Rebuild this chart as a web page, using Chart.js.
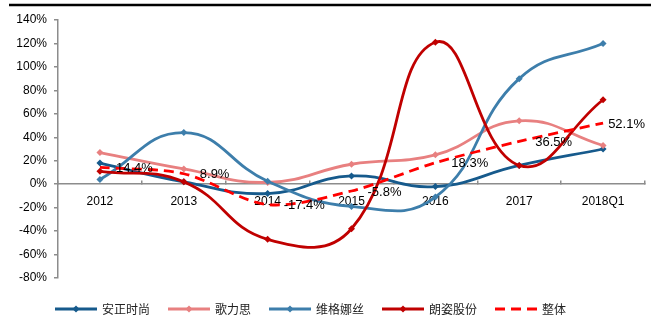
<!DOCTYPE html>
<html>
<head>
<meta charset="utf-8">
<script src="https://cdn.jsdelivr.net/npm/chart.js@4.4.0/dist/chart.umd.min.js"></script>
<style>
	html, body { margin: 0; padding: 0; background: #fff; }
	#wrap { width: 660px; height: 336px; }
</style>
</head>
<body>
<div id="wrap"><canvas id="chart" width="660" height="336"></canvas></div>
<script>
	// Categories and series (growth rates, %).
	var years = ['2012', '2013', '2014', '2015', '2016', '2017', '2018Q1'];
	var anzheng = [18, 2, -8, 7, -2, 16, 30];
	var gelisi = [27, 13, 1.5, 17, 25, 54, 33];
	var weige = [4, 44, 2.5, -19, -11, 90, 120];
	var langzi = [11, 2, -47, -38, 121, 16, 72];
	var overall = [14.4, 8.9, -17.4, -5.8, 18.3, 36.5, 52.1];

	var seriesNames = ['安正时尚', '歌力思', '维格娜丝', '朗姿股份', '整体'];
	var yMin = -80;
	var yMax = 140;
	var yStep = 20;

	var tickFont = { family: '"Liberation Sans", Arial, sans-serif', size: 12 };

	// Thin black rule across the top.
	var topRule = {
		id: 'topRule',
		beforeDraw: function (chart) {
			var ctx = chart.ctx;
			ctx.save();
			ctx.strokeStyle = '#000';
			ctx.lineWidth = 2.5;
			ctx.beginPath();
			ctx.moveTo(9, 5);
			ctx.lineTo(651, 5);
			ctx.stroke();
			ctx.restore();
		}
	};

	// Value labels for the "整体" series, kept inside the plot area.
	var overallLabels = {
		id: 'overallLabels',
		afterDatasetsDraw: function (chart) {
			var ctx = chart.ctx;
			var meta = chart.getDatasetMeta(4);
			var right = chart.chartArea.right;
			ctx.save();
			ctx.font = '13px "Liberation Sans", Arial, sans-serif';
			ctx.fillStyle = '#000';
			ctx.textAlign = 'left';
			ctx.textBaseline = 'middle';
			meta.data.forEach(function (pt, i) {
				var text = overall[i].toFixed(1) + '%';
				var w = ctx.measureText(text).width;
				var tx = pt.x + 16;
				if (tx + w > right) {
					tx = right - w;
				}
				ctx.fillText(text, tx, pt.y + 1);
			});
			ctx.restore();
		}
	};

	// Legend drawn by hand so the line samples carry diamond markers.
	var bottomLegend = {
		id: 'bottomLegend',
		afterDraw: function (chart) {
			var ctx = chart.ctx;
			var x = 55;
			var y = 309;
			ctx.save();
			ctx.font = '12px "Noto Sans CJK SC", sans-serif';
			ctx.textBaseline = 'middle';
			chart.data.datasets.forEach(function (ds) {
				ctx.strokeStyle = ds.borderColor;
				ctx.lineWidth = ds.borderWidth;
				ctx.setLineDash(ds.borderDash || []);
				ctx.beginPath();
				ctx.moveTo(x, y);
				ctx.lineTo(x + 42, y);
				ctx.stroke();
				ctx.setLineDash([]);
				if (ds.pointRadius > 0) {
					var r = 3.5;
					ctx.fillStyle = ds.borderColor;
					ctx.beginPath();
					ctx.moveTo(x + 21, y - r);
					ctx.lineTo(x + 21 + r, y);
					ctx.lineTo(x + 21, y + r);
					ctx.lineTo(x + 21 - r, y);
					ctx.closePath();
					ctx.fill();
				}
				ctx.fillStyle = '#222';
				ctx.fillText(ds.label, x + 47, y);
				x += 47 + ctx.measureText(ds.label).width + 18;
			});
			ctx.restore();
		}
	};

	function solidSeries(label, data, color, order) {
		return {
			label: label,
			data: data,
			borderColor: color,
			backgroundColor: color,
			borderWidth: 2.8,
			pointStyle: 'rectRot',
			pointRadius: 3.5,
			pointBorderWidth: 0,
			tension: 0.45,
			fill: false,
			order: order
		};
	}

	new Chart(document.getElementById('chart').getContext('2d'), {
		type: 'line',
		data: {
			labels: years,
			datasets: [
				solidSeries(seriesNames[0], anzheng, '#165a8c', 4),
				solidSeries(seriesNames[1], gelisi, '#e88080', 3),
				solidSeries(seriesNames[2], weige, '#3d7eab', 2),
				solidSeries(seriesNames[3], langzi, '#c00000', 1),
				{
					label: seriesNames[4],
					data: overall,
					borderColor: '#ff0000',
					backgroundColor: '#ff0000',
					borderWidth: 2.8,
					borderDash: [10, 6],
					pointRadius: 0,
					tension: 0.3,
					fill: false,
					order: 0
				}
			]
		},
		options: {
			responsive: false,
			animation: false,
			devicePixelRatio: 1,
			layout: {
				padding: { left: 0, right: 15, top: 20, bottom: 58 }
			},
			plugins: {
				legend: { display: false },
				tooltip: { enabled: false }
			},
			scales: {
				x: {
					position: { y: 0 },
					offset: true,
					grid: {
						offset: true,
						drawOnChartArea: false,
						drawTicks: true,
						tickLength: -4,
						color: '#8c8c8c',
						lineWidth: 1.5
					},
					border: { color: '#8c8c8c', width: 1.5 },
					ticks: {
						color: '#000',
						font: tickFont,
						padding: 14,
						maxRotation: 0
					}
				},
				y: {
					min: yMin,
					max: yMax,
					afterFit: function (scale) {
						scale.width = 58;
					},
					grid: {
						drawOnChartArea: false,
						drawTicks: true,
						tickLength: 4,
						color: '#8c8c8c',
						lineWidth: 1.5
					},
					border: { color: '#8c8c8c', width: 1.5 },
					ticks: {
						stepSize: yStep,
						color: '#000',
						font: tickFont,
						padding: 7,
						callback: function (v) {
							return v + '%';
						}
					}
				}
			}
		},
		plugins: [topRule, overallLabels, bottomLegend]
	});
</script>
</body>
</html>
